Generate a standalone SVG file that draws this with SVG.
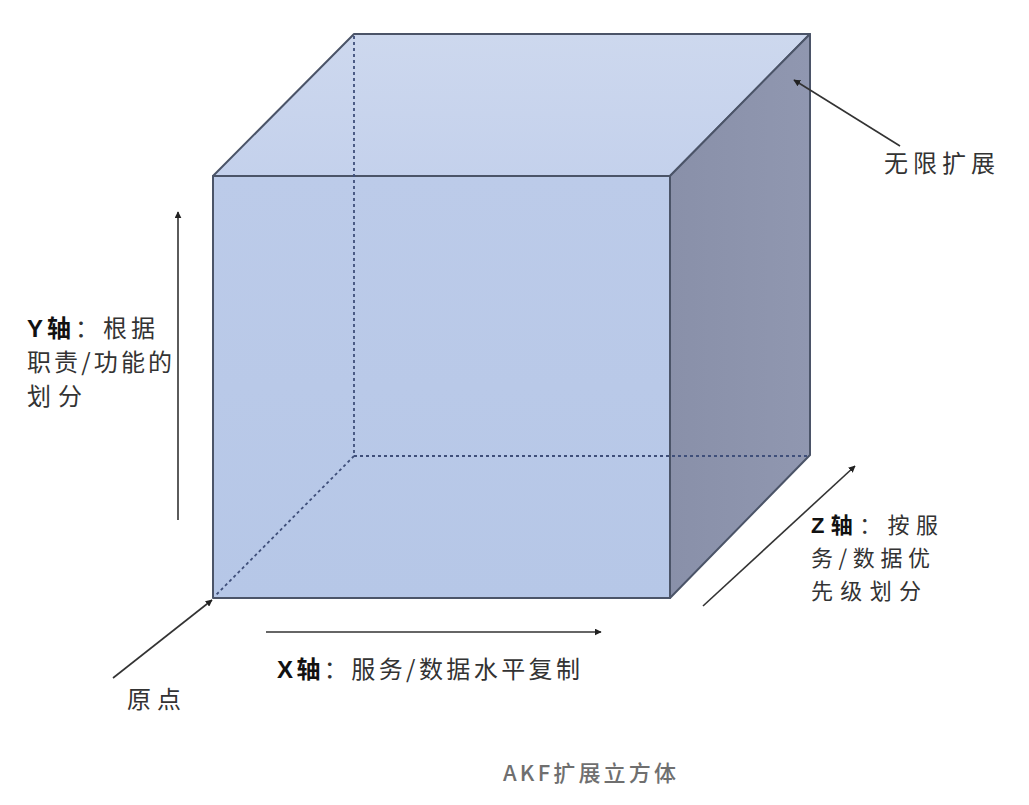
<svg xmlns="http://www.w3.org/2000/svg" width="1029" height="805" viewBox="0 0 1029 805">
<defs>
<marker id="ah" viewBox="0 0 10 10" refX="9" refY="5" markerWidth="7" markerHeight="7" markerUnits="userSpaceOnUse" orient="auto"><path d="M0,0 L10,5 L0,10 z" fill="#222"/></marker>
<linearGradient id="gFront" x1="0" y1="0" x2="0" y2="1"><stop offset="0" stop-color="#bccbe9"/><stop offset="1" stop-color="#b6c7e7"/></linearGradient>
<linearGradient id="gTop" x1="0" y1="0" x2="0" y2="1"><stop offset="0" stop-color="#cdd8ee"/><stop offset="1" stop-color="#c4d1ec"/></linearGradient>
<linearGradient id="gRight" x1="0" y1="0" x2="1" y2="0"><stop offset="0" stop-color="#8990a9"/><stop offset="1" stop-color="#9097b0"/></linearGradient>
</defs>
<style>
.edge{stroke:#4b5468;stroke-width:2;stroke-linejoin:round}
.hid{stroke:#3f4f7a;stroke-width:1.8;stroke-dasharray:3 3;fill:none}
.arr{stroke:#333;stroke-width:1.6;fill:none;marker-end:url(#ah)}
.t{font-family:"Noto Sans CJK SC","Liberation Sans",sans-serif;font-size:24px;fill:#333}
.z{font-size:22px}
.b{font-family:"Liberation Sans","Noto Sans CJK SC",sans-serif;font-weight:bold;fill:#111}
.cap{font-family:"Noto Sans CJK SC","Liberation Sans",sans-serif;font-size:22px;font-weight:500;fill:#6f6f6f}
</style>
<rect width="1029" height="805" fill="#ffffff"/>
<g id="cube">
<polygon class="edge" points="213,176 354,34 810,34 670,176" fill="url(#gTop)"/>
<polygon class="edge" points="670,176 810,34 810,455 670,598" fill="url(#gRight)"/>
<rect class="edge" x="213" y="176" width="457" height="422" fill="url(#gFront)"/>
<line class="hid" x1="354" y1="36" x2="354" y2="456"/>
<line class="hid" x1="354" y1="456" x2="808" y2="456"/>
<line class="hid" x1="354" y1="456" x2="215" y2="596"/>
</g>
<g id="connectors">
<line class="arr" x1="178" y1="520" x2="178" y2="212"/>
<line class="arr" x1="266" y1="632" x2="601" y2="632"/>
<line class="arr" x1="703" y1="606" x2="855" y2="466"/>
<line class="arr" x1="113" y1="678" x2="212" y2="600"/>
<line class="arr" x1="900" y1="146" x2="794" y2="80"/>
</g>
<g id="label-y">
<text class="t" x="27" y="337" textLength="128" lengthAdjust="spacing"><tspan class="b">Y轴</tspan>：根据</text>
<text class="t" x="27" y="371" textLength="145" lengthAdjust="spacing">职责/功能的</text>
<text class="t" x="27" y="405" textLength="55" lengthAdjust="spacing">划分</text>
</g>
<g id="label-inf">
<text class="t" x="884" y="172" textLength="111" lengthAdjust="spacing">无限扩展</text>
</g>
<g id="label-z">
<text class="t z" x="811" y="533" textLength="127" lengthAdjust="spacing"><tspan class="b">Z轴</tspan>：按服</text>
<text class="t z" x="811" y="566" textLength="119" lengthAdjust="spacing">务/数据优</text>
<text class="t z" x="811" y="599" textLength="110" lengthAdjust="spacing">先级划分</text>
</g>
<g id="label-x">
<text class="t" x="277" y="678" textLength="303" lengthAdjust="spacing"><tspan class="b">X轴</tspan>：服务/数据水平复制</text>
</g>
<g id="label-origin">
<text class="t" x="127" y="708" textLength="54" lengthAdjust="spacing">原点</text>
</g>
<g id="caption">
<text class="cap" x="503" y="781" textLength="173" lengthAdjust="spacing">AKF扩展立方体</text>
</g>
</svg>
